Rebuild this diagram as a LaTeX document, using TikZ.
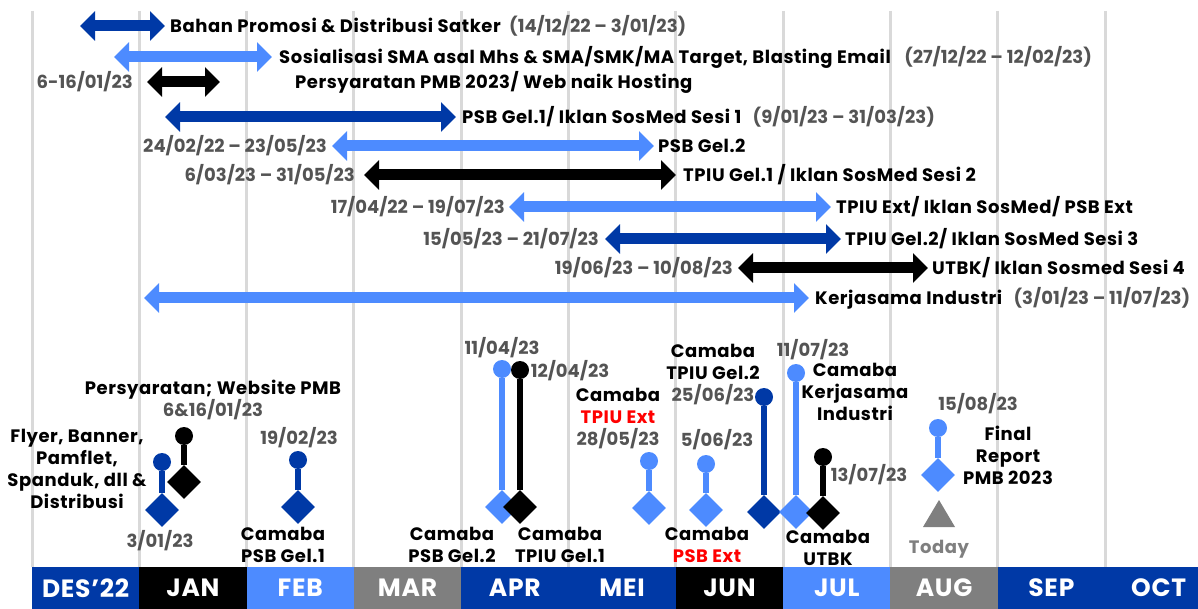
\documentclass[tikz,border=0pt]{standalone}
\usepackage{fontspec}
\setmainfont{Poppins}[LetterSpace=3]
\newfontfamily\plainfont{Poppins}
\usetikzlibrary{arrows.meta,positioning,shapes.geometric}

\definecolor{pmbblue}{RGB}{0,57,166}
\definecolor{pmbsky}{RGB}{77,139,255}
\definecolor{dategray}{RGB}{84,84,84}
\definecolor{monthgray}{RGB}{127,127,127}
\definecolor{gridgray}{RGB}{217,217,217}

\tikzset{
  bar/.style={line width=11pt, {Triangle[width=29pt,length=15pt]}-{Triangle[width=29pt,length=15pt]}},
  task/.style={font=\bfseries\fontsize{18}{22}\selectfont, inner sep=0pt, text height=12.6pt, text depth=0pt},
  when/.style={task, font=\plainfont\bfseries\fontsize{18}{22}\selectfont, text=dategray},
  note/.style={font=\bfseries\fontsize{18}{22}\selectfont, inner sep=0pt, align=center},
  stamp/.style={note, font=\plainfont\bfseries\fontsize{18}{22}\selectfont, text=dategray},
  knob/.style={circle, fill=#1, minimum size=18pt, inner sep=0pt},
  gem/.style={diamond, fill=#1, minimum width=34pt, minimum height=34pt, inner sep=0pt},
  stem/.style={line width=6pt, draw=#1},
  monthbox/.style={font=\bfseries\fontsize{25}{25}\selectfont, text=white}
}
\newcommand{\dated}[1]{{\plainfont\color{dategray}#1}}

\begin{document}
\begin{tikzpicture}[x=1pt, y=-1pt]
	\useasboundingbox (0,0) rectangle (1198,609);

	% Garis bulan
	\foreach \i in {0,...,10}
		\draw[gridgray, line width=3pt] (32+107.3*\i,11) -- (32+107.3*\i,567);

	% Bar bulan
	\foreach \i/\m/\c in {0/DES’22/pmbblue, 1/JAN/black, 2/FEB/pmbsky, 3/MAR/monthgray,
		4/APR/pmbblue, 5/MEI/pmbblue, 6/JUN/black, 7/JUL/pmbsky, 8/AUG/monthgray,
		9/SEP/pmbblue, 10/OCT/pmbblue}
	{
		\fill[\c] (32+107.3*\i,567) rectangle ({min(32+107.3*(\i+1),1198)},609);
		\node[monthbox] (m\i) at (32+107.3*\i+53.65,588) {\m};
	}

	% Kegiatan 1
	\coordinate (b1l) at (80,26);
	\coordinate (b1r) at (165,26);
	\draw[bar, pmbblue] (b1l) -- (b1r);
	\node[task, right=5pt of b1r] (t1) {Bahan Promosi \& Distribusi Satker};
	\node[when, right=8pt of t1] (d1) {(14/12/22 – 3/01/23)};

	% Kegiatan 2
	\coordinate (b2l) at (114,57);
	\coordinate (b2r) at (272,57);
	\draw[bar, pmbsky] (b2l) -- (b2r);
	\node[task, right=7pt of b2r] (t2) {Sosialisasi SMA asal Mhs \& SMA/SMK/MA Target, Blasting Email};
	\node[when, right=13pt of t2] (d2) {(27/12/22 – 12/02/23)};

	% Kegiatan 3
	\coordinate (b3l) at (147,82);
	\coordinate (b3r) at (220,82);
	\draw[bar, black] (b3l) -- (b3r);
	\node[when, left=14pt of b3l] (d3) {6-16/01/23};
	\node[task, anchor=west] (t3) at (295,82) {Persyaratan PMB 2023/ Web naik Hosting};

	% Kegiatan 4
	\coordinate (b4l) at (165,117);
	\coordinate (b4r) at (456,117);
	\draw[bar, pmbblue] (b4l) -- (b4r);
	\node[task, right=6pt of b4r] (t4) {PSB Gel.1/ Iklan SosMed Sesi 1};
	\node[when, right=11pt of t4] (d4) {(9/01/23 – 31/03/23)};

	% Kegiatan 5
	\coordinate (b5l) at (332,146);
	\coordinate (b5r) at (654,146);
	\draw[bar, pmbsky] (b5l) -- (b5r);
	\node[when, left=5pt of b5l] (d5) {24/02/22 – 23/05/23};
	\node[task, right=4pt of b5r] (t5) {PSB Gel.2};

	% Kegiatan 6
	\coordinate (b6l) at (364,175);
	\coordinate (b6r) at (676,175);
	\draw[bar, black] (b6l) -- (b6r);
	\node[when, left=9pt of b6l] (d6) {6/03/23 – 31/05/23};
	\node[task, right=7pt of b6r] (t6) {TPIU Gel.1 / Iklan SosMed Sesi 2};

	% Kegiatan 7
	\coordinate (b7l) at (509,207);
	\coordinate (b7r) at (831,207);
	\draw[bar, pmbsky] (b7l) -- (b7r);
	\node[when, left=4pt of b7l] (d7) {17/04/22 – 19/07/23};
	\node[task, right=5pt of b7r] (t7) {TPIU Ext/ Iklan SosMed/ PSB Ext};

	% Kegiatan 8
	\coordinate (b8l) at (605,239);
	\coordinate (b8r) at (841,239);
	\draw[bar, pmbblue] (b8l) -- (b8r);
	\node[when, left=6pt of b8l] (d8) {15/05/23 – 21/07/23};
	\node[task, right=4pt of b8r] (t8) {TPIU Gel.2/ Iklan SosMed Sesi 3};

	% Kegiatan 9
	\coordinate (b9l) at (738,268);
	\coordinate (b9r) at (928,268);
	\draw[bar, black] (b9l) -- (b9r);
	\node[when, left=5pt of b9l] (d9) {19/06/23 – 10/08/23};
	\node[task, right=4pt of b9r] (t9) {UTBK/ Iklan Sosmed Sesi 4};

	% Kegiatan 10
	\coordinate (b10l) at (144,298);
	\coordinate (b10r) at (809,298);
	\draw[bar, pmbsky] (b10l) -- (b10r);
	\node[task, right=6pt of b10r] (t10) {Kerjasama Industri};
	\node[when, right=11pt of t10] (d10) {(3/01/23 – 11/07/23)};

	% Milestone
	\foreach \n/\x/\ya/\yb/\c in {1/162/462/510/pmbblue, 2/184/436/482/black,
		3/298/460/507/pmbblue, 4/502/369/507/pmbsky, 5/520/370/507/black,
		6/649/461/508/pmbsky, 7/706/464/510/pmbsky, 8/764/397/512/pmbblue,
		9/796/373/512/pmbsky, 10/823/457/513/black, 11/938/428/475/pmbsky}
	{
		\node[knob=\c] (p\n) at (\x,\ya) {};
		\node[gem=\c] (g\n) at (\x,\yb) {};
		\draw[stem=\c] (p\n) -- (g\n);
	}

	% Label milestone
	\node[note] (n1) at (77,469) {Flyer, Banner,\\Pamflet,\\Spanduk, dll \&\\Distribusi};
	\node[stamp] (n1d) at (160,541) {3/01/23};
	\node[note] (n2) at (213,400) {Persyaratan; Website PMB\\\dated{6\&16/01/23}};
	\node[stamp] (n3d) at (299,438) {19/02/23};
	\node[note] (n3) at (283,545) {Camaba\\PSB Gel.1};
	\node[stamp] (n4d) at (502,348) {11/04/23};
	\node[stamp] (n5d) at (570,371) {12/04/23};
	\node[note] (n4) at (452,545) {Camaba\\PSB Gel.2};
	\node[note] (n5) at (560,545) {Camaba\\TPIU Gel.1};
	\node[note] (n6) at (618,419) {Camaba\\\textcolor{red}{TPIU Ext}\\\dated{28/05/23}};
	\node[stamp] (n7d) at (717,440) {5/06/23};
	\node[note] (n7) at (707,545) {Camaba\\\textcolor{red}{PSB Ext}};
	\node[note] (n8) at (713,375) {Camaba\\TPIU Gel.2\\\dated{25/06/23}};
	\node[stamp] (n9d) at (813,350) {11/07/23};
	\node[note] (n9) at (855,392) {Camaba\\Kerjasama\\Industri};
	\node[stamp] (n10d) at (869,475) {13/07/23};
	\node[note] (n10) at (828,548) {Camaba\\UTBK};
	\node[stamp] (n11d) at (978,404) {15/08/23};
	\node[note] (n11) at (1008,455) {Final\\Report\\PMB 2023};

	% Today
	\fill[monthgray] (923,527) -- (939,500) -- (955,527) -- cycle;
	\node[note, text=monthgray] (today) at (939,549) {Today};
\end{tikzpicture}
\end{document}
